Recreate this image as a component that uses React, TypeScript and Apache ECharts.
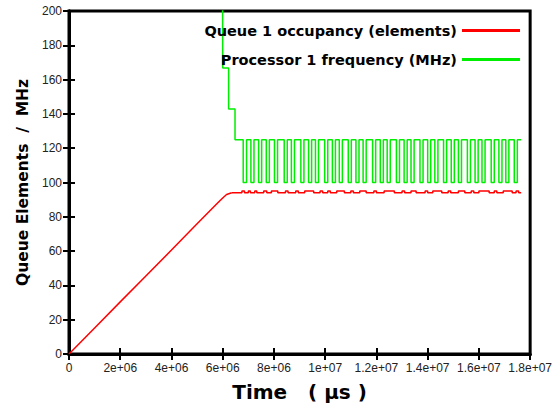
import React, { useEffect, useRef } from "react";
import * as echarts from "echarts";

// Queue 1 occupancy — filling phase: [time (µs), elements]
const rampTimes = [0, 1e6, 2e6, 3e6, 4e6, 5e6, 5.8e6, 6.0e6, 6.15e6, 6.35e6];
const rampValues = [0, 15.2, 30.4, 45.5, 60.6, 76, 88, 91, 93, 94];

// Queue 1 occupancy — steady phase (step changes)
const plateauTimes = [
  6.35e6, 6.75e6, 6.85e6, 7.0e6, 7.08e6, 7.25e6, 7.33e6, 7.6e6, 7.72e6, 7.9e6, 8.15e6,
  8.45e6, 8.55e6, 8.85e6, 8.95e6, 9.2e6, 9.55e6, 9.8e6, 9.9e6, 10.1e6, 10.2e6,
  10.45e6, 10.75e6, 11.0e6, 11.1e6, 11.35e6, 11.6e6, 11.9e6, 12.0e6, 12.3e6, 12.7e6,
  13.0e6, 13.1e6, 13.35e6, 13.55e6, 13.9e6, 14.0e6, 14.2e6, 14.55e6, 14.8e6, 14.9e6,
  15.2e6, 15.45e6, 15.7e6, 15.8e6, 16.0e6, 16.4e6, 16.6e6, 16.7e6, 16.95e6, 17.3e6,
  17.45e6, 17.55e6, 17.65e6,
];
const plateauValues = [
  94, 95, 94, 95, 94, 95, 94, 95, 94, 95, 94,
  95, 94, 95, 94, 95, 94, 95, 94, 95, 94,
  95, 94, 95, 94, 95, 94, 95, 94, 95, 94,
  95, 94, 95, 94, 95, 94, 95, 94, 95, 94,
  95, 94, 95, 94, 95, 94, 95, 94, 95, 94,
  95, 94, 94,
];

// Processor 1 frequency: step changes [time (µs), MHz]
const freqTimes = [
  5.99e6, 6.0e6, 6.23e6, 6.48e6, 6.8e6, 6.93e6, 7.1e6, 7.22e6, 7.4e6, 7.52e6,
  7.7e6, 7.82e6, 8.02e6, 8.14e6, 8.4e6, 8.52e6, 8.68e6, 8.8e6, 9.05e6, 9.17e6,
  9.35e6, 9.47e6, 9.62e6, 9.74e6, 9.98e6, 10.1e6, 10.28e6, 10.4e6, 10.55e6, 10.67e6,
  10.9e6, 11.02e6, 11.2e6, 11.32e6, 11.48e6, 11.6e6, 11.85e6, 11.97e6, 12.15e6, 12.27e6,
  12.42e6, 12.54e6, 12.78e6, 12.9e6, 13.08e6, 13.2e6, 13.35e6, 13.47e6, 13.7e6, 13.82e6,
  14.0e6, 14.12e6, 14.28e6, 14.4e6, 14.62e6, 14.74e6, 14.92e6, 15.04e6, 15.2e6, 15.32e6,
  15.55e6, 15.67e6, 15.85e6, 15.97e6, 16.12e6, 16.24e6, 16.48e6, 16.6e6, 16.78e6, 16.9e6,
  17.05e6, 17.17e6, 17.38e6, 17.5e6, 17.65e6,
];
const freqValues = [
  250, 166.7, 142.9, 125, 100, 125, 100, 125, 100, 125,
  100, 125, 100, 125, 100, 125, 100, 125, 100, 125,
  100, 125, 100, 125, 100, 125, 100, 125, 100, 125,
  100, 125, 100, 125, 100, 125, 100, 125, 100, 125,
  100, 125, 100, 125, 100, 125, 100, 125, 100, 125,
  100, 125, 100, 125, 100, 125, 100, 125, 100, 125,
  100, 125, 100, 125, 100, 125, 100, 125, 100, 125,
  100, 125, 100, 125, 125,
];

const seriesNames = ["Queue 1 occupancy (elements)", "Processor 1 frequency (MHz)"];
const xTitle = "Time   ( µs )";
const yTitle = "Queue Elements  /  MHz";

function fmtExp(v: number): string {
  if (v === 0) return "0";
  const s = v.toExponential();
  return s.replace(/e([+-])(\d)$/, "e$10$2");
}

export default function App() {
  const ref = useRef<HTMLDivElement>(null);
  useEffect(() => {
    if (!ref.current) return;
    const chart = echarts.init(ref.current, null, { renderer: "svg" });
    const ffLabel = "'Liberation Sans', Arial, sans-serif";
    const ffBold = "'DejaVu Sans', sans-serif";
    const tick = { show: true, inside: true, length: 6, lineStyle: { color: "#000", width: 2 } };
    const red = "#ff0000";
    const green = "#00ee00";
    chart.setOption({
      animation: false,
      backgroundColor: "#fff",
      grid: {
        left: 69, right: 23, top: 11, bottom: 54,
        show: true, borderColor: "#000", borderWidth: 3, backgroundColor: "#fff",
      },
      legend: {
        orient: "vertical",
        right: 30,
        top: 18,
        align: "right",
        icon: "rect",
        itemWidth: 58,
        itemHeight: 3,
        itemGap: 14,
        textStyle: { fontFamily: ffBold, fontWeight: "bold", fontSize: 14.5, color: "#000" },
        data: seriesNames,
      },
      xAxis: [
        {
          type: "value", min: 0, max: 1.8e7, interval: 2e6,
          name: xTitle, nameLocation: "middle", nameGap: 28,
          nameTextStyle: { fontFamily: ffBold, fontWeight: "bold", fontSize: 20, color: "#000" },
          axisLine: { show: true, lineStyle: { color: "#000", width: 3 } },
          axisTick: tick,
          splitLine: { show: false },
          axisLabel: { formatter: fmtExp, fontFamily: ffLabel, fontSize: 12, color: "#222", margin: 8 },
        },
        {
          type: "value", min: 0, max: 1.8e7, interval: 2e6, position: "top",
          axisLine: { show: true, lineStyle: { color: "#000", width: 3 } },
          axisTick: tick, axisLabel: { show: false }, splitLine: { show: false },
        },
      ],
      yAxis: [
        {
          type: "value", min: 0, max: 200, interval: 20,
          name: yTitle, nameLocation: "middle", nameGap: 36,
          nameTextStyle: { fontFamily: ffBold, fontWeight: "bold", fontSize: 15.5, color: "#000" },
          axisLine: { show: true, lineStyle: { color: "#000", width: 3 } },
          axisTick: tick,
          splitLine: { show: false },
          axisLabel: { fontFamily: ffLabel, fontSize: 12, color: "#222", margin: 7 },
        },
        {
          type: "value", min: 0, max: 200, interval: 20, position: "right",
          axisLine: { show: true, lineStyle: { color: "#000", width: 3 } },
          axisTick: tick, axisLabel: { show: false }, splitLine: { show: false },
        },
      ],
      series: [
        {
          name: seriesNames[0], type: "line", symbol: "none",
          data: rampTimes.map((t, i) => [t, rampValues[i]]),
          lineStyle: { color: red, width: 1.5 }, itemStyle: { color: red },
          clip: true,
        },
        {
          name: seriesNames[0], type: "line", step: "end", symbol: "none",
          data: plateauTimes.map((t, i) => [t, plateauValues[i]]),
          lineStyle: { color: red, width: 1.5 }, itemStyle: { color: red },
          clip: true,
        },
        {
          name: seriesNames[1], type: "line", step: "end", symbol: "none",
          data: freqTimes.map((t, i) => [t, freqValues[i]]),
          lineStyle: { color: green, width: 1.5 }, itemStyle: { color: green },
          clip: true,
        },
      ],
    });
    return () => chart.dispose();
  }, []);
  return <div ref={ref} style={{ width: 555, height: 408, position: "absolute", left: 0, top: 0 }} />;
}
